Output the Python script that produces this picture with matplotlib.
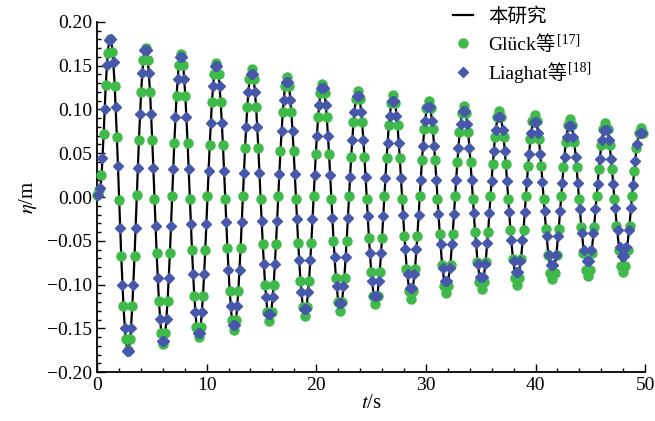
import numpy as np
import matplotlib
matplotlib.use('Agg')
import matplotlib.pyplot as plt
from matplotlib.ticker import MultipleLocator, AutoMinorLocator

plt.rcParams['font.family'] = ['Liberation Serif', 'Noto Sans CJK SC']
plt.rcParams['mathtext.fontset'] = 'stix'

# sample times (s), step ~0.2 s
t = np.linspace(0, 49.8, 248)

# eta (m), present study, sampled at t
eta_model = [
    0.000, 0.005,
    0.020, 0.070, 0.129, 0.169, 0.183, 0.169, 0.129, 0.070,
    0.000, -0.068, -0.125, -0.164, -0.177, -0.164, -0.125, -0.068,
    0.000, 0.066, 0.121, 0.158, 0.171, 0.158, 0.121, 0.066,
    0.000, -0.064, -0.117, -0.153, -0.166, -0.153, -0.117, -0.064,
    0.000, 0.062, 0.115, 0.151, 0.163, 0.151, 0.115, 0.062,
    0.000, -0.061, -0.112, -0.146, -0.158, -0.146, -0.112, -0.061,
    0.000, 0.059, 0.108, 0.141, 0.153, 0.141, 0.108, 0.059,
    0.000, -0.057, -0.106, -0.139, -0.150, -0.139, -0.106, -0.057,
    0.000, 0.056, 0.103, 0.134, 0.145, 0.134, 0.103, 0.056,
    0.000, -0.053, -0.098, -0.128, -0.139, -0.128, -0.098, -0.053,
    0.000, 0.052, 0.095, 0.125, 0.135, 0.125, 0.095, 0.052,
    0.000, -0.051, -0.093, -0.122, -0.132, -0.122, -0.093, -0.051,
    0.000, 0.049, 0.090, 0.117, 0.127, 0.117, 0.090, 0.049,
    0.000, -0.048, -0.089, -0.116, -0.126, -0.116, -0.089, -0.048,
    0.000, 0.046, 0.084, 0.110, 0.119, 0.110, 0.084, 0.046,
    0.000, -0.045, -0.083, -0.109, -0.118, -0.109, -0.083, -0.045,
    0.000, 0.044, 0.081, 0.105, 0.114, 0.105, 0.081, 0.044,
    0.000, -0.042, -0.078, -0.102, -0.110, -0.102, -0.078, -0.042,
    0.000, 0.041, 0.076, 0.099, 0.107, 0.099, 0.076, 0.041,
    0.000, -0.039, -0.073, -0.095, -0.103, -0.095, -0.073, -0.039,
    0.000, 0.039, 0.072, 0.094, 0.102, 0.094, 0.072, 0.039,
    0.000, -0.038, -0.069, -0.091, -0.098, -0.091, -0.069, -0.038,
    0.000, 0.036, 0.067, 0.088, 0.095, 0.088, 0.067, 0.036,
    0.000, -0.036, -0.066, -0.086, -0.093, -0.086, -0.066, -0.036,
    0.000, 0.035, 0.064, 0.084, 0.091, 0.084, 0.064, 0.035,
    0.000, -0.033, -0.061, -0.079, -0.086, -0.079, -0.061, -0.033,
    0.000, 0.033, 0.061, 0.079, 0.086, 0.079, 0.061, 0.033,
    0.000, -0.031, -0.057, -0.074, -0.080, -0.074, -0.057, -0.031,
    0.000, 0.031, 0.057, 0.075, 0.081, 0.075, 0.057, 0.031,
    0.000, -0.029, -0.054, -0.070, -0.076, -0.070, -0.054, -0.029,
    0.000, 0.029, 0.054, 0.070, 0.076, 0.070,
]

# Glueck et al. [17], sampled at t
eta_gluck = [
    0.002, 0.008,
    0.025, 0.072, 0.128, 0.165, 0.180, 0.166, 0.127, 0.069,
    -0.003, -0.067, -0.124, -0.162, -0.175, -0.162, -0.124, -0.067,
    0.002, 0.065, 0.120, 0.157, 0.170, 0.157, 0.120, 0.065,
    -0.002, -0.064, -0.119, -0.155, -0.168, -0.155, -0.119, -0.064,
    0.001, 0.062, 0.115, 0.151, 0.163, 0.151, 0.115, 0.062,
    -0.002, -0.061, -0.113, -0.148, -0.160, -0.148, -0.113, -0.061,
    0.001, 0.059, 0.108, 0.141, 0.153, 0.141, 0.108, 0.059,
    -0.002, -0.058, -0.107, -0.140, -0.152, -0.140, -0.107, -0.058,
    0.001, 0.056, 0.103, 0.135, 0.146, 0.135, 0.103, 0.056,
    -0.002, -0.054, -0.100, -0.131, -0.142, -0.131, -0.100, -0.054,
    0.001, 0.052, 0.097, 0.127, 0.137, 0.127, 0.097, 0.052,
    -0.002, -0.052, -0.096, -0.126, -0.136, -0.126, -0.096, -0.052,
    0.001, 0.049, 0.091, 0.119, 0.129, 0.119, 0.091, 0.049,
    -0.002, -0.050, -0.092, -0.120, -0.130, -0.120, -0.092, -0.050,
    0.001, 0.046, 0.086, 0.112, 0.121, 0.112, 0.086, 0.046,
    -0.002, -0.047, -0.086, -0.113, -0.122, -0.113, -0.086, -0.047,
    0.001, 0.044, 0.082, 0.107, 0.116, 0.107, 0.082, 0.044,
    -0.002, -0.044, -0.082, -0.107, -0.116, -0.107, -0.082, -0.044,
    0.001, 0.042, 0.078, 0.102, 0.110, 0.102, 0.078, 0.042,
    -0.002, -0.042, -0.078, -0.102, -0.110, -0.102, -0.078, -0.042,
    0.001, 0.040, 0.074, 0.096, 0.104, 0.096, 0.074, 0.040,
    -0.002, -0.040, -0.074, -0.097, -0.105, -0.097, -0.074, -0.040,
    0.001, 0.038, 0.069, 0.091, 0.098, 0.091, 0.069, 0.038,
    -0.002, -0.038, -0.071, -0.092, -0.100, -0.092, -0.071, -0.038,
    0.001, 0.036, 0.066, 0.087, 0.094, 0.087, 0.066, 0.036,
    -0.002, -0.036, -0.066, -0.087, -0.094, -0.087, -0.066, -0.036,
    0.001, 0.034, 0.063, 0.082, 0.089, 0.082, 0.063, 0.034,
    -0.002, -0.034, -0.064, -0.083, -0.090, -0.083, -0.064, -0.034,
    0.001, 0.032, 0.059, 0.078, 0.084, 0.078, 0.059, 0.032,
    -0.002, -0.033, -0.061, -0.079, -0.086, -0.079, -0.061, -0.033,
    0.001, 0.030, 0.056, 0.073, 0.079, 0.073,
]

# Liaghat et al. [18], sampled half way between the t samples
eta_liaghat = [
    0.002, 0.010,
    0.045, 0.100, 0.151, 0.179, 0.181, 0.154, 0.103, 0.036,
    -0.035, -0.100, -0.149, -0.176, -0.176, -0.149, -0.100, -0.035,
    0.033, 0.095, 0.142, 0.168, 0.168, 0.142, 0.095, 0.033,
    -0.033, -0.093, -0.139, -0.164, -0.164, -0.139, -0.093, -0.033,
    0.032, 0.091, 0.135, 0.160, 0.160, 0.135, 0.091, 0.032,
    -0.031, -0.088, -0.131, -0.155, -0.155, -0.131, -0.088, -0.031,
    0.030, 0.085, 0.127, 0.150, 0.150, 0.127, 0.085, 0.030,
    -0.029, -0.083, -0.124, -0.146, -0.146, -0.124, -0.083, -0.029,
    0.028, 0.080, 0.120, 0.141, 0.141, 0.120, 0.080, 0.028,
    -0.027, -0.076, -0.114, -0.134, -0.134, -0.114, -0.076, -0.027,
    0.026, 0.075, 0.111, 0.131, 0.131, 0.111, 0.075, 0.026,
    -0.025, -0.072, -0.108, -0.128, -0.128, -0.108, -0.072, -0.025,
    0.025, 0.070, 0.105, 0.124, 0.124, 0.105, 0.070, 0.025,
    -0.024, -0.068, -0.102, -0.121, -0.121, -0.102, -0.068, -0.024,
    0.023, 0.065, 0.097, 0.115, 0.115, 0.097, 0.065, 0.023,
    -0.022, -0.064, -0.096, -0.113, -0.113, -0.096, -0.064, -0.022,
    0.022, 0.062, 0.093, 0.110, 0.110, 0.093, 0.062, 0.022,
    -0.021, -0.059, -0.088, -0.104, -0.104, -0.088, -0.059, -0.021,
    0.020, 0.058, 0.087, 0.103, 0.103, 0.087, 0.058, 0.020,
    -0.019, -0.054, -0.081, -0.096, -0.096, -0.081, -0.054, -0.019,
    0.020, 0.056, 0.083, 0.098, 0.098, 0.083, 0.056, 0.020,
    -0.018, -0.052, -0.077, -0.091, -0.091, -0.077, -0.052, -0.018,
    0.018, 0.052, 0.077, 0.091, 0.091, 0.077, 0.052, 0.018,
    -0.017, -0.049, -0.073, -0.086, -0.086, -0.073, -0.049, -0.017,
    0.017, 0.049, 0.073, 0.086, 0.086, 0.073, 0.049, 0.017,
    -0.016, -0.044, -0.066, -0.078, -0.078, -0.066, -0.044, -0.016,
    0.016, 0.046, 0.069, 0.081, 0.081, 0.069, 0.046, 0.016,
    -0.014, -0.041, -0.061, -0.073, -0.073, -0.061, -0.041, -0.014,
    0.015, 0.043, 0.065, 0.077, 0.077, 0.065, 0.043, 0.015,
    -0.013, -0.038, -0.057, -0.067, -0.067, -0.057, -0.038, -0.013,
    0.014, 0.041, 0.061, 0.073, 0.073,
]

labels = ['本研究', 'Glück等', 'Liaghat等']
refs = [None, '[17]', '[18]']

t_liaghat = (t[:-1] + t[1:]) / 2


def main():
    fig = plt.figure(figsize=(6.55, 4.21), dpi=100)
    ax = fig.add_axes([0.148, 0.116, 0.837, 0.832])

    ax.plot(t, eta_model, color='black', lw=1.6, label=labels[0], zorder=2)
    ax.plot(t, eta_gluck, ls='none', marker='o', ms=6.5, color='#3fba4a',
            label=labels[1], zorder=3, clip_on=False)
    ax.plot(t_liaghat, eta_liaghat, ls='none', marker='D', ms=5.2, color='#4757aa',
            label=labels[2], zorder=4, clip_on=False)

    ax.set_xlim(0, 50)
    ax.set_ylim(-0.2, 0.2)
    ax.xaxis.set_major_locator(MultipleLocator(10))
    ax.xaxis.set_minor_locator(AutoMinorLocator(5))
    ax.yaxis.set_major_locator(MultipleLocator(0.05))
    ax.yaxis.set_minor_locator(AutoMinorLocator(5))
    ax.yaxis.set_major_formatter(plt.FuncFormatter(lambda v, p: f'{v:.2f}'.replace('-', '\u2212')))

    for s in ['top', 'right']:
        ax.spines[s].set_visible(False)
    for s in ['left', 'bottom']:
        ax.spines[s].set_linewidth(1.3)
    ax.tick_params(which='both', direction='in', labelsize=14, width=1.0)
    ax.tick_params(which='major', length=6)
    ax.tick_params(which='minor', length=3)

    ax.set_xlabel('$t$/s', fontsize=15, labelpad=0)
    ax.set_ylabel('$\\eta$/m', fontsize=15, labelpad=6)

    leg = ax.legend(loc='upper left', bbox_to_anchor=(0.68, 1.0), bbox_transform=fig.transFigure,
                    frameon=False, fontsize=14, handlelength=1.0, handletextpad=0.8,
                    labelspacing=0.45, borderaxespad=0)

    # reference numbers as superscripts after the legend labels
    fig.canvas.draw()
    r = fig.canvas.get_renderer()
    W, H = fig.bbox.width, fig.bbox.height
    for txt, ref in zip(leg.get_texts(), refs):
        if ref is None:
            continue
        bb = txt.get_window_extent(r)
        fig.text((bb.x1 + 1) / W, (bb.y1 + 1) / H, ref, fontsize=10, va='top', ha='left')

    fig.savefig('out.png', dpi=100)


if __name__ == '__main__':
    main()
